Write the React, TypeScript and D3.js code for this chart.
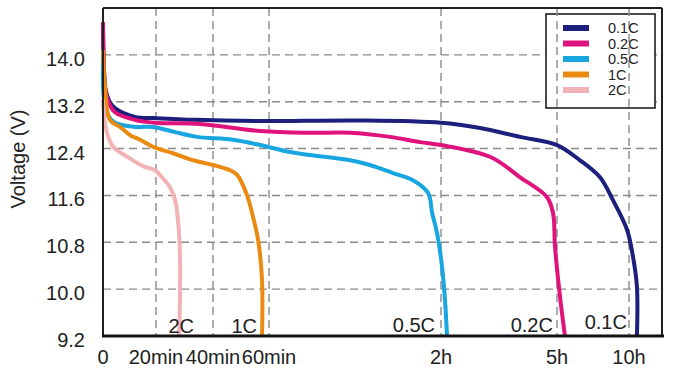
import * as d3 from 'd3'

// discharge rates and colours
const rates = ['0.1C', '0.2C', '0.5C', '1C', '2C']
const rateColors = ['#1c1f7c', '#e0137c', '#17a6df', '#ea8a10', '#f2b3b7']

// time in minutes, voltage in V
const time01 = [0, 0.3, 1, 2.5, 4.5, 12, 19.6, 33.7, 56.8, 91.7, 120, 180.6, 242.7, 300, 395.8, 479, 533, 592, 616.7, 633, 633]
const volt01 = [14.56, 13.8, 13.4, 13.2, 13.09, 12.94, 12.92, 12.89, 12.87, 12.88, 12.84, 12.75, 12.6, 12.46, 12.2, 11.91, 11.52, 11.01, 10.55, 10.04, 9.2]

const time02 = [0, 0.3, 1, 2.5, 4.5, 12, 19.6, 35.4, 56.8, 74.3, 88.3, 102.2, 112.7, 120, 196, 242.7, 284.5, 293.8, 296.9, 312.5, 333]
const volt02 = [14.56, 13.9, 13.36, 13.15, 13.02, 12.89, 12.84, 12.82, 12.7, 12.67, 12.67, 12.6, 12.51, 12.46, 12.26, 11.91, 11.57, 11.3, 10.72, 9.87, 9.2]

const time05 = [0, 0.4, 1.9, 4.5, 12.1, 18.9, 26.7, 34.4, 47.1, 56.8, 67.3, 74.3, 88.3, 95.2, 103.3, 110.2, 115.5, 116.9, 118.6, 121.6, 126.2, 129.3]
const volt05 = [14.05, 13.23, 12.97, 12.84, 12.77, 12.77, 12.68, 12.6, 12.55, 12.46, 12.34, 12.29, 12.2, 12.12, 11.98, 11.86, 11.64, 11.3, 10.96, 10.38, 9.81, 9.2]

const time1 = [0, 0.75, 2.6, 6.4, 10.2, 14, 18.9, 26, 33, 40, 46.1, 48.6, 52.1, 54.3, 56.1, 57.5, 57.5]
const volt1 = [14.08, 13.45, 12.89, 12.77, 12.63, 12.55, 12.43, 12.32, 12.2, 12.12, 12.03, 11.95, 11.61, 11.23, 10.84, 10.16, 9.2]

const time2 = [0, 0.4, 1.5, 3.8, 9.1, 15.1, 19.6, 22.1, 24.9, 26.7, 27.7, 28.4, 28.4, 28.1]
const volt2 = [13.23, 12.97, 12.67, 12.43, 12.26, 12.1, 12.03, 11.91, 11.74, 11.52, 11.18, 10.62, 9.81, 9.2]

const seriesTimes = [time01, time02, time05, time1, time2]
const seriesVolts = [volt01, volt02, volt05, volt1, volt2]

// axis ticks
const xTickMinutes = [0, 20, 40, 60, 120, 300, 600]
const xTickLabels = ['0', '20min', '40min', '60min', '2h', '5h', '10h']
const xTickFractions = [0, 0.0948, 0.1968, 0.297, 0.6047, 0.8122, 0.941]
const yTicks = [9.2, 10.0, 10.8, 11.6, 12.4, 13.2, 14.0]

// in-plot rate labels: pixel offset of the label end from the curve foot
const labelDx = [-10, -12, -12, -5, 15]
const labelDy = [-7, -4, -4, -3, -3]

export default function App() {
  const width = 676
  const height = 374
  const margin = { top: 8, right: 14, bottom: 38, left: 103 }
  const plotW = width - margin.left - margin.right
  const left = margin.left
  const right = width - margin.right
  const top = margin.top
  const bottom = height - margin.bottom

  const x = d3
    .scaleLinear()
    .domain(xTickMinutes)
    .range(xTickFractions.map(f => left + f * plotW))

  const y = d3.scaleLinear().domain([9.2, 14.8]).range([bottom, top])

  const line = d3
    .line<[number, number]>()
    .x(d => x(d[0]))
    .y(d => y(d[1]))
    .curve(d3.curveCatmullRom.alpha(0.5))

  const font = '"Liberation Sans", Arial, Helvetica, sans-serif'
  const gridColor = '#8a8a8a'

  const legendX = 546
  const legendY = 14

  return (
    <svg
      width={width}
      height={height}
      style={{ position: 'absolute', left: 0, top: 0, background: '#fff' }}
      fontFamily={font}
    >
      {/* horizontal grid */}
      {yTicks.slice(1).map(v => (
        <line
          key={'h' + v}
          x1={left}
          x2={right}
          y1={y(v)}
          y2={y(v)}
          stroke={gridColor}
          strokeWidth={1.4}
          strokeDasharray="8 5"
        />
      ))}

      {/* legend box */}
      <rect x={legendX} y={legendY} width={109} height={94} fill="#fff" stroke="#111" strokeWidth={1.5} />

      {/* vertical grid */}
      {xTickMinutes.slice(1).map(t => (
        <line
          key={'v' + t}
          x1={x(t)}
          x2={x(t)}
          y1={top}
          y2={bottom}
          stroke={gridColor}
          strokeWidth={1.4}
          strokeDasharray="8 5"
        />
      ))}

      {/* legend entries */}
      {rates.map((r, i) => (
        <g key={'lg' + r} transform={`translate(${legendX},${legendY + 14 + i * 15.5})`}>
          <line x1={17} x2={43} y1={0} y2={0} stroke={rateColors[i]} strokeWidth={6} />
          <text x={62} y={5} fontSize={14.5} fill="#222">
            {r}
          </text>
        </g>
      ))}

      {/* curves */}
      {seriesTimes.map((ts, i) => {
        const pts = ts.map((t, j) => [t, seriesVolts[i][j]] as [number, number])
        return (
          <path
            key={'c' + i}
            d={line(pts) || ''}
            fill="none"
            stroke={rateColors[i]}
            strokeWidth={4}
            strokeLinejoin="round"
            strokeLinecap="butt"
          />
        )
      })}

      {/* rate labels near curve feet */}
      {rates.map((r, i) => {
        const ts = seriesTimes[i]
        return (
          <text
            key={'rl' + r}
            x={x(ts[ts.length - 1]) + labelDx[i]}
            y={bottom + labelDy[i]}
            textAnchor="end"
            fontSize={20}
            fill="#222"
          >
            {r}
          </text>
        )
      })}

      {/* frame */}
      <line x1={left} x2={left} y1={top} y2={bottom} stroke="#231f20" strokeWidth={2} />
      <line x1={left} x2={right} y1={top} y2={top} stroke="#231f20" strokeWidth={2} />
      <line x1={right} x2={right} y1={top} y2={bottom} stroke="#231f20" strokeWidth={2} />
      <line x1={left - 1} x2={right + 2} y1={bottom} y2={bottom} stroke="#111" strokeWidth={3} />

      {/* y tick labels */}
      {yTicks.map(v => (
        <text key={'yl' + v} x={85} y={y(v) + 11} textAnchor="end" fontSize={20} fill="#222">
          {v.toFixed(1)}
        </text>
      ))}

      {/* x tick labels */}
      {xTickMinutes.map((t, i) => (
        <text key={'xl' + t} x={x(t)} y={364} textAnchor="middle" fontSize={20} fill="#222">
          {xTickLabels[i]}
        </text>
      ))}

      <text
        transform={`translate(25,159) rotate(-90)`}
        textAnchor="middle"
        fontSize={20}
        fill="#222"
      >
        Voltage (V)
      </text>
    </svg>
  )
}
